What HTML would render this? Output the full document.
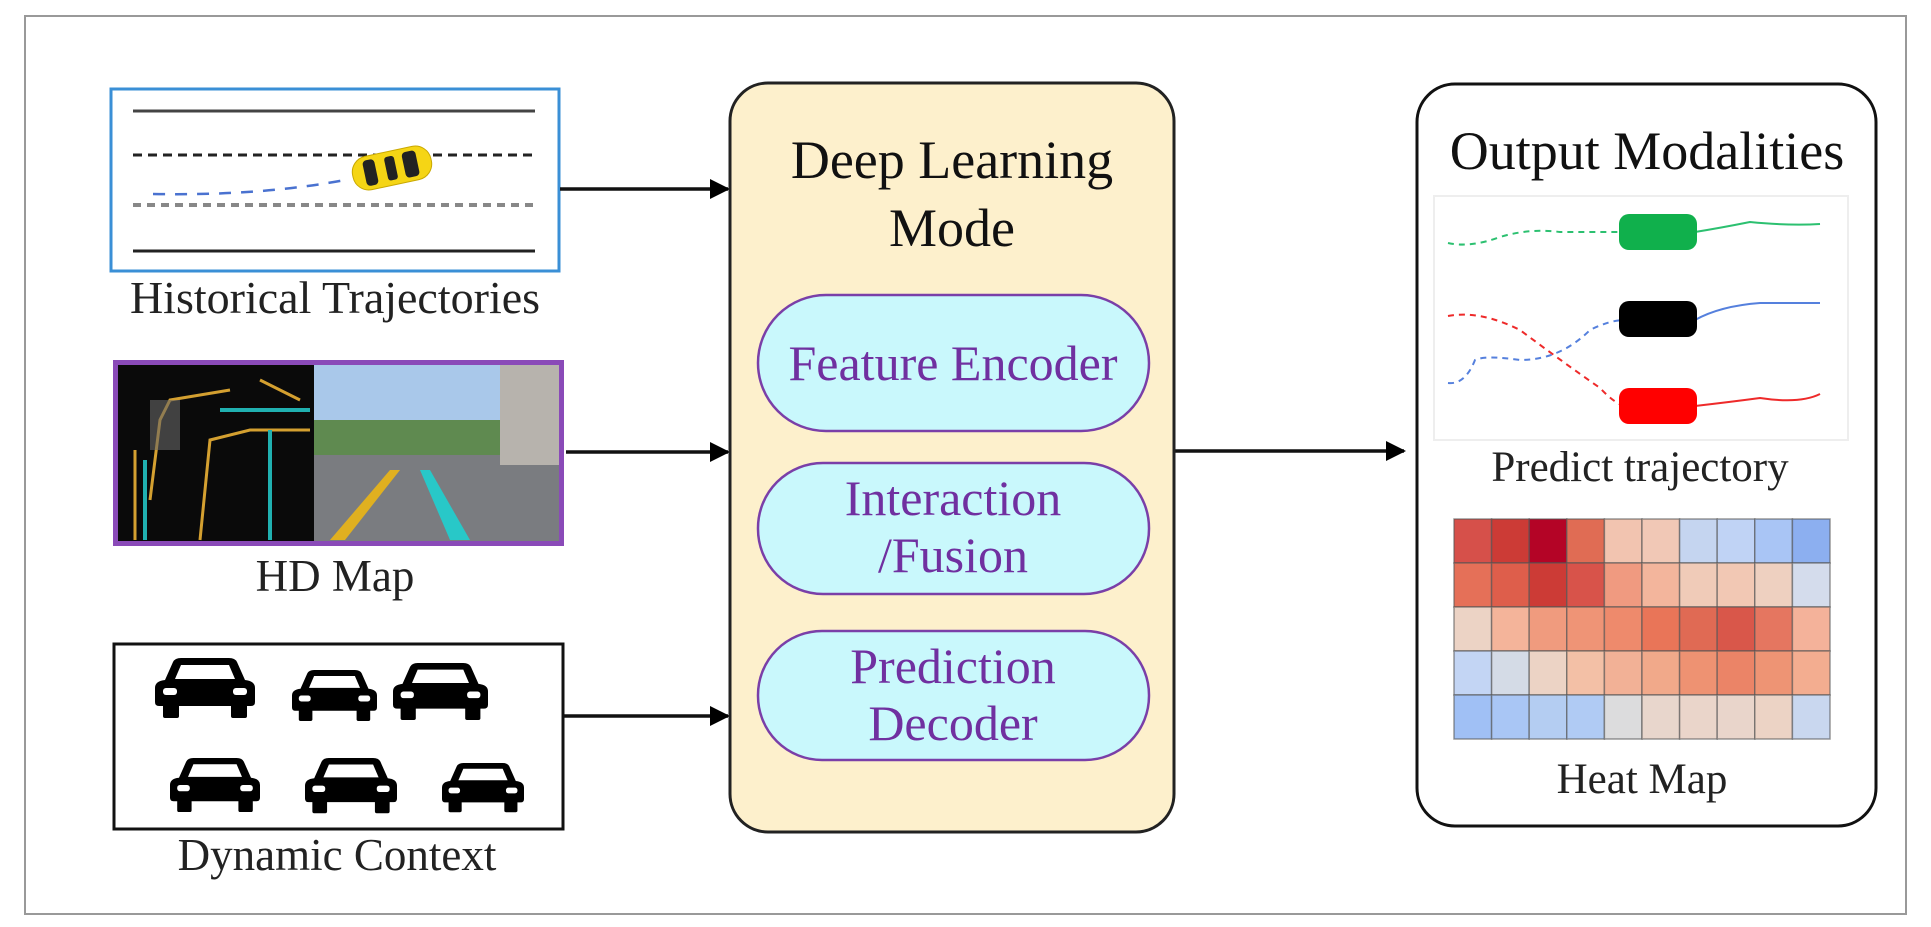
<!DOCTYPE html>
<html><head><meta charset="utf-8"><style>
html,body{margin:0;padding:0;background:#fff}
svg{display:block}
text{font-family:"Liberation Serif",serif}
</style></head><body>
<svg width="1931" height="927" viewBox="0 0 1931 927" xmlns="http://www.w3.org/2000/svg">
<defs>
<marker id="ah" viewBox="0 0 10 10" refX="9" refY="5" markerWidth="24" markerHeight="20" orient="auto" markerUnits="userSpaceOnUse"><path d="M0,0 L10,5 L0,10z" fill="#000"/></marker>
<g id="car"><path d="M10,22 L18,4 Q20,0 26,0 L74,0 Q80,0 82,4 L90,22 Q100,23 100,30 L100,44 Q100,48 96,48 L4,48 Q0,48 0,44 L0,30 Q0,23 10,22Z" fill="#000"/><path d="M20,21 L26,7 L74,7 L80,21Z" fill="#fff"/><rect x="8" y="30" width="14" height="7" rx="3" fill="#fff"/><rect x="78" y="30" width="14" height="7" rx="3" fill="#fff"/><rect x="8" y="46" width="16" height="14" rx="2" fill="#000"/><rect x="76" y="46" width="16" height="14" rx="2" fill="#000"/></g>
</defs>
<rect x="25" y="16" width="1881" height="898" fill="#fff" stroke="#999" stroke-width="2"/>

<!-- Historical -->
<rect x="111" y="89" width="448" height="182" fill="#fff" stroke="#3a8fd6" stroke-width="3"/>
<line x1="133" y1="111" x2="535" y2="111" stroke="#444" stroke-width="3"/>
<line x1="133" y1="155" x2="535" y2="155" stroke="#222" stroke-width="3" stroke-dasharray="9,6"/>
<line x1="133" y1="205" x2="535" y2="205" stroke="#888" stroke-width="4" stroke-dasharray="8,6"/>
<line x1="133" y1="251" x2="535" y2="251" stroke="#222" stroke-width="3"/>
<path d="M153,194 Q260,196 345,180" fill="none" stroke="#4a72d0" stroke-width="2.5" stroke-dasharray="12,10"/>
<g transform="translate(392,168) rotate(-12)"><rect x="-40" y="-17" width="80" height="34" rx="16" fill="#f5d515" stroke="#c9a800"/><rect x="-28" y="-13" width="12" height="26" rx="4" fill="#222"/><rect x="-6" y="-12" width="10" height="24" rx="3" fill="#222"/><rect x="12" y="-13" width="14" height="26" rx="4" fill="#222"/></g>
<text x="335" y="313" font-size="46" text-anchor="middle" fill="#222">Historical Trajectories</text>

<!-- HD Map -->
<rect x="113" y="360" width="451" height="186" fill="#8a4ab8"/>
<rect x="118" y="365" width="196" height="176" fill="#0a0a0a"/>
<rect x="314" y="365" width="245" height="176" fill="#a9c8ea"/>
<rect x="314" y="450" width="245" height="91" fill="#7a7c80"/>
<rect x="314" y="420" width="245" height="35" fill="#5f8a50"/>
<rect x="500" y="365" width="59" height="100" fill="#b7b3ad"/>
<path d="M330,540 L390,470 L400,470 L345,540Z" fill="#e0b020"/>
<path d="M450,540 L420,470 L430,470 L470,540Z" fill="#28c8c8"/>
<path d="M150,500 L160,420 L170,400 L230,390 M260,380 L300,400 M200,540 L210,440 L250,430 L310,430 M135,450 L135,540" fill="none" stroke="#d4a030" stroke-width="3"/>
<path d="M145,540 L145,460 M270,430 L270,540 M220,410 L310,410" fill="none" stroke="#20b0b0" stroke-width="4"/>
<rect x="150" y="400" width="30" height="50" fill="#666" opacity=".6"/>
<text x="335" y="591" font-size="45" text-anchor="middle" fill="#222">HD Map</text>

<!-- Dynamic -->
<rect x="114" y="644" width="449" height="185" fill="#fff" stroke="#111" stroke-width="3"/>
<use href="#car" transform="translate(155,658) scale(1)"/>
<use href="#car" transform="translate(292,670) scale(0.85)"/>
<use href="#car" transform="translate(393,663) scale(0.95)"/>
<use href="#car" transform="translate(170,758) scale(0.9)"/>
<use href="#car" transform="translate(305,758) scale(0.92)"/>
<use href="#car" transform="translate(442,763) scale(0.82)"/>
<text x="337" y="870" font-size="45" text-anchor="middle" fill="#222">Dynamic Context</text>

<!-- arrows -->
<line x1="560" y1="189" x2="728" y2="189" stroke="#111" stroke-width="3.5" marker-end="url(#ah)"/>
<line x1="566" y1="452" x2="728" y2="452" stroke="#111" stroke-width="3.5" marker-end="url(#ah)"/>
<line x1="563" y1="716" x2="728" y2="716" stroke="#111" stroke-width="3.5" marker-end="url(#ah)"/>
<line x1="1174" y1="451" x2="1404" y2="451" stroke="#111" stroke-width="3.5" marker-end="url(#ah)"/>

<!-- DL box -->
<rect x="730" y="83" width="444" height="749" rx="38" fill="#fdf0cc" stroke="#222" stroke-width="3"/>
<text x="952" y="178" font-size="54" text-anchor="middle" fill="#111">Deep Learning</text>
<text x="952" y="246" font-size="54" text-anchor="middle" fill="#111">Mode</text>
<rect x="758" y="295" width="391" height="136" rx="68" fill="#c9f8fc" stroke="#7a3fa8" stroke-width="2.5"/>
<text x="953" y="380" font-size="50" text-anchor="middle" fill="#7030a0">Feature Encoder</text>
<rect x="758" y="463" width="391" height="131" rx="65" fill="#c9f8fc" stroke="#7a3fa8" stroke-width="2.5"/>
<text x="953" y="515" font-size="50" text-anchor="middle" fill="#7030a0">Interaction</text>
<text x="953" y="572" font-size="50" text-anchor="middle" fill="#7030a0">/Fusion</text>
<rect x="758" y="631" width="391" height="129" rx="64" fill="#c9f8fc" stroke="#7a3fa8" stroke-width="2.5"/>
<text x="953" y="683" font-size="50" text-anchor="middle" fill="#7030a0">Prediction</text>
<text x="953" y="740" font-size="50" text-anchor="middle" fill="#7030a0">Decoder</text>

<!-- Output -->
<rect x="1417" y="84" width="459" height="742" rx="38" fill="#fff" stroke="#111" stroke-width="3"/>
<text x="1647" y="169" font-size="54" text-anchor="middle" fill="#111">Output Modalities</text>
<rect x="1434" y="196" width="414" height="244" fill="#fff" stroke="#eee" stroke-width="2"/>
<path d="M1448,243 Q1470,248 1500,237 Q1530,228 1560,232 L1625,232" fill="none" stroke="#2cc070" stroke-width="2" stroke-dasharray="6,5"/>
<path d="M1695,232 Q1720,228 1750,222 Q1790,226 1820,224" fill="none" stroke="#2cc070" stroke-width="2"/>
<path d="M1448,316 Q1480,310 1520,330 Q1560,360 1600,388 Q1615,404 1625,406" fill="none" stroke="#ee2a2a" stroke-width="2" stroke-dasharray="6,5"/>
<path d="M1695,406 Q1730,402 1760,398 Q1800,404 1820,394" fill="none" stroke="#ee2a2a" stroke-width="2"/>
<path d="M1448,383 Q1465,385 1475,360 Q1485,355 1520,360 Q1560,360 1590,330 Q1610,320 1625,320" fill="none" stroke="#5580dd" stroke-width="2" stroke-dasharray="6,5"/>
<path d="M1695,320 Q1720,306 1760,303 L1820,303" fill="none" stroke="#5580dd" stroke-width="2"/>
<rect x="1619" y="214" width="78" height="36" rx="10" fill="#10b04c"/>
<rect x="1619" y="301" width="78" height="36" rx="10" fill="#000"/>
<rect x="1619" y="388" width="78" height="36" rx="10" fill="#f00"/>
<text x="1640" y="481" font-size="43" text-anchor="middle" fill="#222">Predict trajectory</text>

<g stroke="#555" stroke-width="1.5" stroke-opacity=".6">
<rect x="1454" y="519" width="37.6" height="44" fill="#d6504a"/><rect x="1491.6" y="519" width="37.6" height="44" fill="#cc3b36"/><rect x="1529.2" y="519" width="37.6" height="44" fill="#b40426"/><rect x="1566.8" y="519" width="37.6" height="44" fill="#e06c54"/><rect x="1604.4" y="519" width="37.6" height="44" fill="#f2c4b0"/><rect x="1642" y="519" width="37.6" height="44" fill="#f1c8b6"/><rect x="1679.6" y="519" width="37.6" height="44" fill="#c5d5f0"/><rect x="1717.2" y="519" width="37.6" height="44" fill="#c0d3f5"/><rect x="1754.8" y="519" width="37.6" height="44" fill="#a9c5f5"/><rect x="1792.4" y="519" width="37.6" height="44" fill="#8caff0"/>
<rect x="1454" y="563" width="37.6" height="44" fill="#e57058"/><rect x="1491.6" y="563" width="37.6" height="44" fill="#de5e4b"/><rect x="1529.2" y="563" width="37.6" height="44" fill="#cc3b36"/><rect x="1566.8" y="563" width="37.6" height="44" fill="#d8534a"/><rect x="1604.4" y="563" width="37.6" height="44" fill="#f09a80"/><rect x="1642" y="563" width="37.6" height="44" fill="#f3b59c"/><rect x="1679.6" y="563" width="37.6" height="44" fill="#f0cbb8"/><rect x="1717.2" y="563" width="37.6" height="44" fill="#f2c8b4"/><rect x="1754.8" y="563" width="37.6" height="44" fill="#eed0c0"/><rect x="1792.4" y="563" width="37.6" height="44" fill="#d4dcec"/>
<rect x="1454" y="607" width="37.6" height="44" fill="#ecd3c5"/><rect x="1491.6" y="607" width="37.6" height="44" fill="#f4b49a"/><rect x="1529.2" y="607" width="37.6" height="44" fill="#f09b7e"/><rect x="1566.8" y="607" width="37.6" height="44" fill="#ef9476"/><rect x="1604.4" y="607" width="37.6" height="44" fill="#ee8a6c"/><rect x="1642" y="607" width="37.6" height="44" fill="#e97558"/><rect x="1679.6" y="607" width="37.6" height="44" fill="#e06a54"/><rect x="1717.2" y="607" width="37.6" height="44" fill="#d9574a"/><rect x="1754.8" y="607" width="37.6" height="44" fill="#e57660"/><rect x="1792.4" y="607" width="37.6" height="44" fill="#f4b29a"/>
<rect x="1454" y="651" width="37.6" height="44" fill="#c3d5f4"/><rect x="1491.6" y="651" width="37.6" height="44" fill="#d4dbe6"/><rect x="1529.2" y="651" width="37.6" height="44" fill="#ecd3c5"/><rect x="1566.8" y="651" width="37.6" height="44" fill="#f3c0a6"/><rect x="1604.4" y="651" width="37.6" height="44" fill="#f2b196"/><rect x="1642" y="651" width="37.6" height="44" fill="#f1a98a"/><rect x="1679.6" y="651" width="37.6" height="44" fill="#ee9272"/><rect x="1717.2" y="651" width="37.6" height="44" fill="#eb8467"/><rect x="1754.8" y="651" width="37.6" height="44" fill="#ee9474"/><rect x="1792.4" y="651" width="37.6" height="44" fill="#f3ad90"/>
<rect x="1454" y="695" width="37.6" height="44" fill="#a0c0f5"/><rect x="1491.6" y="695" width="37.6" height="44" fill="#a9c6f5"/><rect x="1529.2" y="695" width="37.6" height="44" fill="#b4cdf2"/><rect x="1566.8" y="695" width="37.6" height="44" fill="#b0cbf4"/><rect x="1604.4" y="695" width="37.6" height="44" fill="#dcdcdd"/><rect x="1642" y="695" width="37.6" height="44" fill="#e8d6cc"/><rect x="1679.6" y="695" width="37.6" height="44" fill="#ead5ca"/><rect x="1717.2" y="695" width="37.6" height="44" fill="#e9d5cb"/><rect x="1754.8" y="695" width="37.6" height="44" fill="#ecd3c5"/><rect x="1792.4" y="695" width="37.6" height="44" fill="#c9d7ef"/>
</g>
<text x="1642" y="793" font-size="43" text-anchor="middle" fill="#222">Heat Map</text>
</svg>
</body></html>
